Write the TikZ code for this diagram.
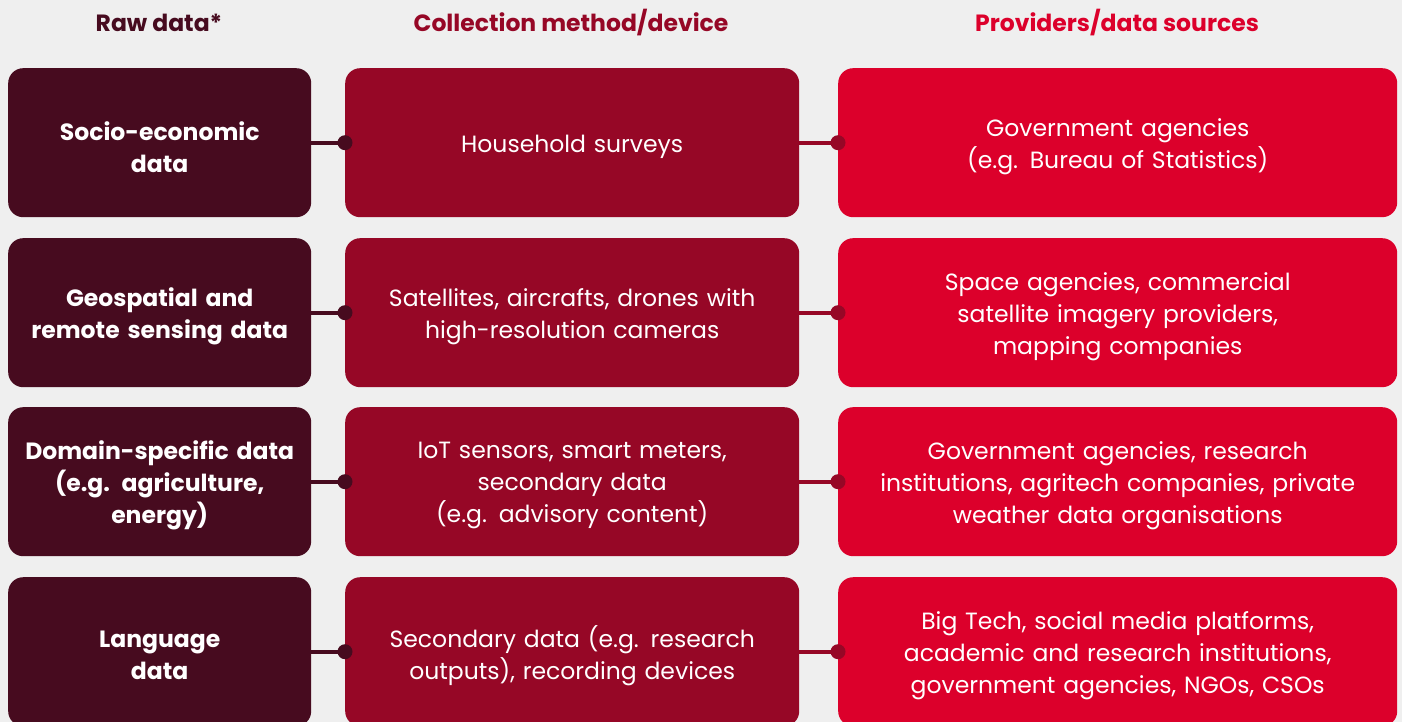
\documentclass[tikz,border=0pt]{standalone}
\usepackage{fontspec}
\setmainfont{Poppins}
\definecolor{bg}{HTML}{EFEFEF}
\definecolor{cA}{HTML}{470B1F}
\definecolor{cB}{HTML}{960726}
\definecolor{cC}{HTML}{DC002B}
\tikzset{
  box/.style={rounded corners=15pt, minimum height=149pt, anchor=north west, inner sep=0pt},
  boxA/.style={box, fill=cA, minimum width=303pt},
  boxB/.style={box, fill=cB, minimum width=454pt},
  boxC/.style={box, fill=cC, minimum width=559pt},
  txt/.style={inner sep=0pt, align=center, text=white, yshift=-4pt, font=\fontsize{23.5}{32}\selectfont},
  txtA/.style={txt, text width=295pt, font=\fontsize{23.5}{32}\selectfont\bfseries},
  txtB/.style={txt, text width=445pt},
  txtC/.style={txt, text width=550pt},
  head/.style={font=\fontsize{23.5}{26}\selectfont\bfseries, anchor=center},
  conn/.style={line width=4pt},
}
\begin{document}
\begin{tikzpicture}[x=1pt,y=1pt]
\useasboundingbox (0,0) rectangle (1402,-722);
\fill[bg] (0,0) rectangle (1402,-722);
\clip (0,0) rectangle (1402,-722);
\node[head, text=cA] (h1) at (159,-23) {Raw data*};
\node[head, text=cB] (h2) at (571,-23) {Collection method/device};
\node[head, text=cC] (h3) at (1117,-23) {Providers/data sources};
% boxes
\foreach \r/\y in {1/68,2/238,3/407,4/577}{
  \node[boxA] (a\r) at (8,-\y) {};
  \node[boxB] (b\r) at (345,-\y) {};
  \node[boxC] (c\r) at (838,-\y) {};
}
% row 1
\node[txtA] (ta1) at (a1.center) {Socio-economic\\data};
\node[txtB] (tb1) at (b1.center) {Household surveys};
\node[txtC] (tc1) at (c1.center) {Government agencies\\(e.g. Bureau of Statistics)};
% row 2
\node[txtA] (ta2) at (a2.center) {Geospatial and\\remote sensing data};
\node[txtB] (tb2) at (b2.center) {Satellites, aircrafts, drones with\\high-resolution cameras};
\node[txtC] (tc2) at (c2.center) {Space agencies, commercial\\satellite imagery providers,\\mapping companies};
% row 3
\node[txtA] (ta3) at (a3.center) {Domain-specific data\\(e.g. agriculture,\\energy)};
\node[txtB] (tb3) at (b3.center) {IoT sensors, smart meters,\\secondary data\\(e.g. advisory content)};
\node[txtC] (tc3) at (c3.center) {Government agencies, research\\institutions, agritech companies, private\\weather data organisations};
% row 4
\node[txtA] (ta4) at (a4.center) {Language\\data};
\node[txtB] (tb4) at (b4.center) {Secondary data (e.g. research\\outputs), recording devices};
\node[txtC] (tc4) at (c4.center) {Big Tech, social media platforms,\\academic and research institutions,\\government agencies, NGOs, CSOs};
% connectors
\foreach \r in {1,2,3,4}{
  \draw[conn, cA] (a\r.east) -- (b\r.west);
  \fill[cA] (b\r.west) circle (7.5);
  \draw[conn, cB] (b\r.east) -- (c\r.west);
  \fill[cB] (c\r.west) circle (7.5);
}
\end{tikzpicture}
\end{document}
